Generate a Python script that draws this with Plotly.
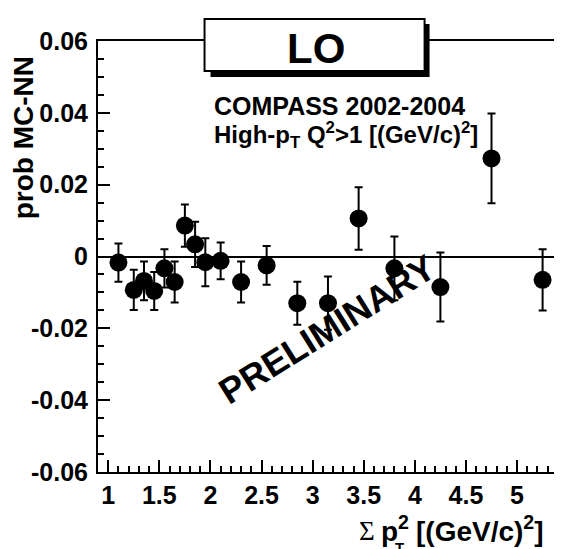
import plotly.graph_objects as go

# ---- data ----
sum_pt2 = [1.1, 1.25, 1.35, 1.45, 1.55, 1.65, 1.75, 1.85, 1.95, 2.1, 2.3, 2.55,
           2.85, 3.15, 3.45, 3.8, 4.25, 4.75, 5.25]
prob_diff = [-0.0017, -0.0093, -0.0068, -0.0096, -0.0033, -0.0071, 0.0086, 0.0034,
             -0.0016, -0.0012, -0.0071, -0.0025, -0.0130, -0.0130, 0.0106, -0.0033,
             -0.0085, 0.0273, -0.0065]
prob_err = [0.0053, 0.0056, 0.0054, 0.0053, 0.0053, 0.0057, 0.0059, 0.0063,
            0.0067, 0.0051, 0.0057, 0.0054, 0.0060, 0.0074, 0.0087, 0.0089,
            0.0096, 0.0125, 0.0085]

x_tickvals = [1, 1.5, 2, 2.5, 3, 3.5, 4, 4.5, 5]
x_ticktext = ["1", "1.5", "2", "2.5", "3", "3.5", "4", "4.5", "5"]
y_tickvals = [-0.06, -0.04, -0.02, 0, 0.02, 0.04, 0.06]
y_ticktext = ["-0.06", "-0.04", "-0.02", "0", "0.02", "0.04", "0.06"]

W, H = 562, 549
L, R, T, B = 90, 7, 33, 85
PW, PH = W - L - R, H - T - B
FONT = "Liberation Sans, Arial, sans-serif"
SERIF = "Liberation Serif, Times New Roman, serif"


def px(xp):
    return (xp - L) / PW


def py(yp):
    return (H - B - yp) / PH


fig = go.Figure()
fig.add_trace(go.Scatter(
    x=sum_pt2, y=prob_diff, mode="markers",
    marker=dict(color="black", size=18, symbol="circle"),
    error_y=dict(type="data", array=prob_err, visible=True,
                 color="black", thickness=2, width=4),
    showlegend=False,
))

axis_common = dict(
    showline=True, linecolor="black", linewidth=2, mirror=True,
    ticks="inside", ticklen=12, tickwidth=2, tickcolor="black",
    showgrid=False,
    tickfont=dict(family=FONT, size=25, color="black", weight="bold"),
)

fig.update_xaxes(
    range=[0.9, 5.43], tickmode="array", tickvals=x_tickvals, ticktext=x_ticktext,
    zeroline=False,
    minor=dict(tickmode="linear", tick0=0, dtick=0.1, ticks="inside",
               ticklen=6, tickwidth=2, tickcolor="black", showgrid=False),
    **axis_common,
)
fig.update_yaxes(
    range=[-0.06, 0.06], tickmode="array", tickvals=y_tickvals, ticktext=y_ticktext,
    zeroline=True, zerolinecolor="black", zerolinewidth=2,
    ticklabelstandoff=3,
    minor=dict(tickmode="linear", tick0=0, dtick=0.005, ticks="inside",
               ticklen=6, tickwidth=2, tickcolor="black", showgrid=False),
    **axis_common,
)

shapes = [
    # shadow of the LO box
    dict(type="rect", xref="paper", yref="paper",
         x0=px(203), x1=px(423), y0=py(69), y1=py(16),
         fillcolor="black", line=dict(width=0), layer="above"),
    # LO box
    dict(type="rect", xref="paper", yref="paper",
         x0=px(197), x1=px(418), y0=py(63), y1=py(11),
         fillcolor="white", line=dict(color="black", width=2), layer="above"),
]

annotations = [
    dict(text="<b>LO</b>", x=px(309), y=py(40), xref="paper", yref="paper",
         xanchor="center", yanchor="middle", showarrow=False,
         font=dict(family=FONT, size=42, color="black")),
    dict(text="<b>COMPASS 2002-2004</b>", x=px(204), y=py(98), xref="paper", yref="paper",
         xanchor="left", yanchor="middle", showarrow=False,
         font=dict(family=FONT, size=25, color="black")),
    dict(text="<b>High-p<sub>T</sub> Q<sup>2</sup>&gt;1 [(GeV/c)<sup>2</sup>]</b>",
         x=px(204), y=py(127), xref="paper", yref="paper",
         xanchor="left", yanchor="middle", showarrow=False,
         font=dict(family=FONT, size=24, color="black")),
    dict(text="<b>PRELIMINARY</b>", x=px(320), y=py(322), xref="paper", yref="paper",
         xanchor="center", yanchor="middle", showarrow=False, textangle=-32,
         font=dict(family=FONT, size=36, color="black")),
    dict(text="<b>prob MC-NN</b>", x=px(16), y=py(130), xref="paper", yref="paper",
         xanchor="center", yanchor="middle", showarrow=False, textangle=-90,
         font=dict(family=FONT, size=28, color="black")),
    dict(text="<b>[(GeV/c)<sup>2</sup>]</b>",
         x=px(540), y=py(521), xref="paper", yref="paper",
         xanchor="right", yanchor="middle", showarrow=False,
         font=dict(family=FONT, size=28, color="black")),
    dict(text="<b>p<sup>2</sup></b>",
         x=px(372), y=py(521), xref="paper", yref="paper",
         xanchor="left", yanchor="middle", showarrow=False,
         font=dict(family=FONT, size=28, color="black")),
    dict(text="Σ", x=px(360), y=py(523), xref="paper", yref="paper",
         xanchor="center", yanchor="middle", showarrow=False,
         font=dict(family=SERIF, size=27, color="black")),
    dict(text="<b>T</b>", x=px(393), y=py(539), xref="paper", yref="paper",
         xanchor="center", yanchor="middle", showarrow=False,
         font=dict(family=FONT, size=15, color="black")),
]

fig.update_layout(
    width=W, height=H,
    margin=dict(l=L, r=R, t=T, b=B, pad=0),
    paper_bgcolor="white", plot_bgcolor="white",
    shapes=shapes, annotations=annotations,
    font=dict(family=FONT, color="black"),
)

fig.write_html("out.html")
